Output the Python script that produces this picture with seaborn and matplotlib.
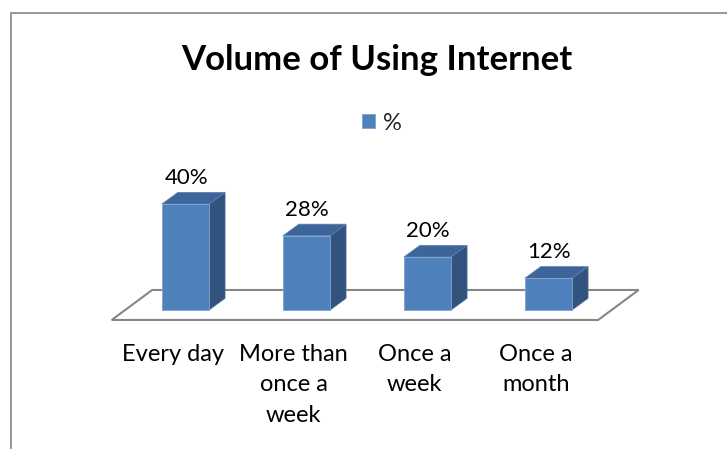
import matplotlib.pyplot as plt
import matplotlib.patches as mpatches
import numpy as np
import seaborn as sns

# Data
categories = ["Every day", "More than\nonce a\nweek", "Once a\nweek", "Once a\nmonth"]
values = [40, 28, 20, 12]
series_name = "%"

# Style
sns.set_style("white")
plt.rcParams['font.family'] = ['Lato', 'DejaVu Sans']

front_col = "#4F81BD"
top_col = "#3E6599"
side_col = "#32537D"
grey = "#868686"

fig = plt.figure(figsize=(7.27, 4.49), dpi=100)
ax = fig.add_axes([0.0887, 0.2624, 0.8322, 0.3541])

# faux 3D depth (data units)
dx, dy = 0.132, 4.4

# floor of the 3D chart
n = len(categories)
fl, fr, fshift = -0.61, n - 0.59, 0.335
f_front, f_back = -3.77, 7.55
floor = mpatches.Polygon([(fl, f_front), (fr, f_front), (fr + fshift, f_back), (fl + fshift, f_back)],
                         closed=True, facecolor="white", edgecolor=grey, lw=1.5, zorder=0)
ax.add_patch(floor)

sns.barplot(x=list(range(n)), y=values, color=front_col, width=0.39, saturation=1,
            edgecolor="#7FA3D1", linewidth=0.6, label=series_name, ax=ax, zorder=3)
handles, labels = ax.get_legend_handles_labels()
if ax.get_legend() is not None:
    ax.get_legend().remove()

# side and top faces built from the seaborn bars
for p in list(ax.patches):
    if not isinstance(p, mpatches.Rectangle) or p.get_height() <= 0:
        continue
    x0, w, h = p.get_x(), p.get_width(), p.get_height()
    x1 = x0 + w
    side = mpatches.Polygon([(x1, 0), (x1 + dx, dy), (x1 + dx, h + dy), (x1, h)],
                            facecolor=side_col, edgecolor="#4A6E9C", lw=0.5, zorder=2)
    top = mpatches.Polygon([(x0, h), (x0 + dx, h + dy), (x1 + dx, h + dy), (x1, h)],
                           facecolor=top_col, edgecolor="#5B84B8", lw=0.5, zorder=2)
    ax.add_patch(side)
    ax.add_patch(top)

# data labels
for i, v in enumerate(values):
    ax.text(i + 0.005, v + 9.9, f"{v}%", ha="center", va="center", fontsize=16, color="black")

# category labels along the front edge of the floor
for i, c in enumerate(categories):
    ax.text(i - 0.105, -12.8, c, ha="center", va="top", fontsize=17, color="black", linespacing=1.55)

ax.set_xlim(-1, 4)
ax.set_ylim(-8, 52)
ax.set_axis_off()

fig.text(0.518, 1 - 70 / 449, "Volume of Using Internet", ha="center", va="baseline",
         fontsize=25, fontweight="bold", color="black")

fig.legend(handles[:1], labels[:1], loc="center", bbox_to_anchor=(0.525, 0.726), frameon=False,
           fontsize=17, handlelength=0.55, handleheight=0.55, handletextpad=0.35)

# chart area border (partly cropped)
fig.add_artist(mpatches.Rectangle((11 / 727, -0.1), 1.2, 1 - 13 / 449 + 0.1, transform=fig.transFigure,
                                  fill=False, edgecolor=grey, lw=1.2))

fig.savefig("out.png", dpi=100)
